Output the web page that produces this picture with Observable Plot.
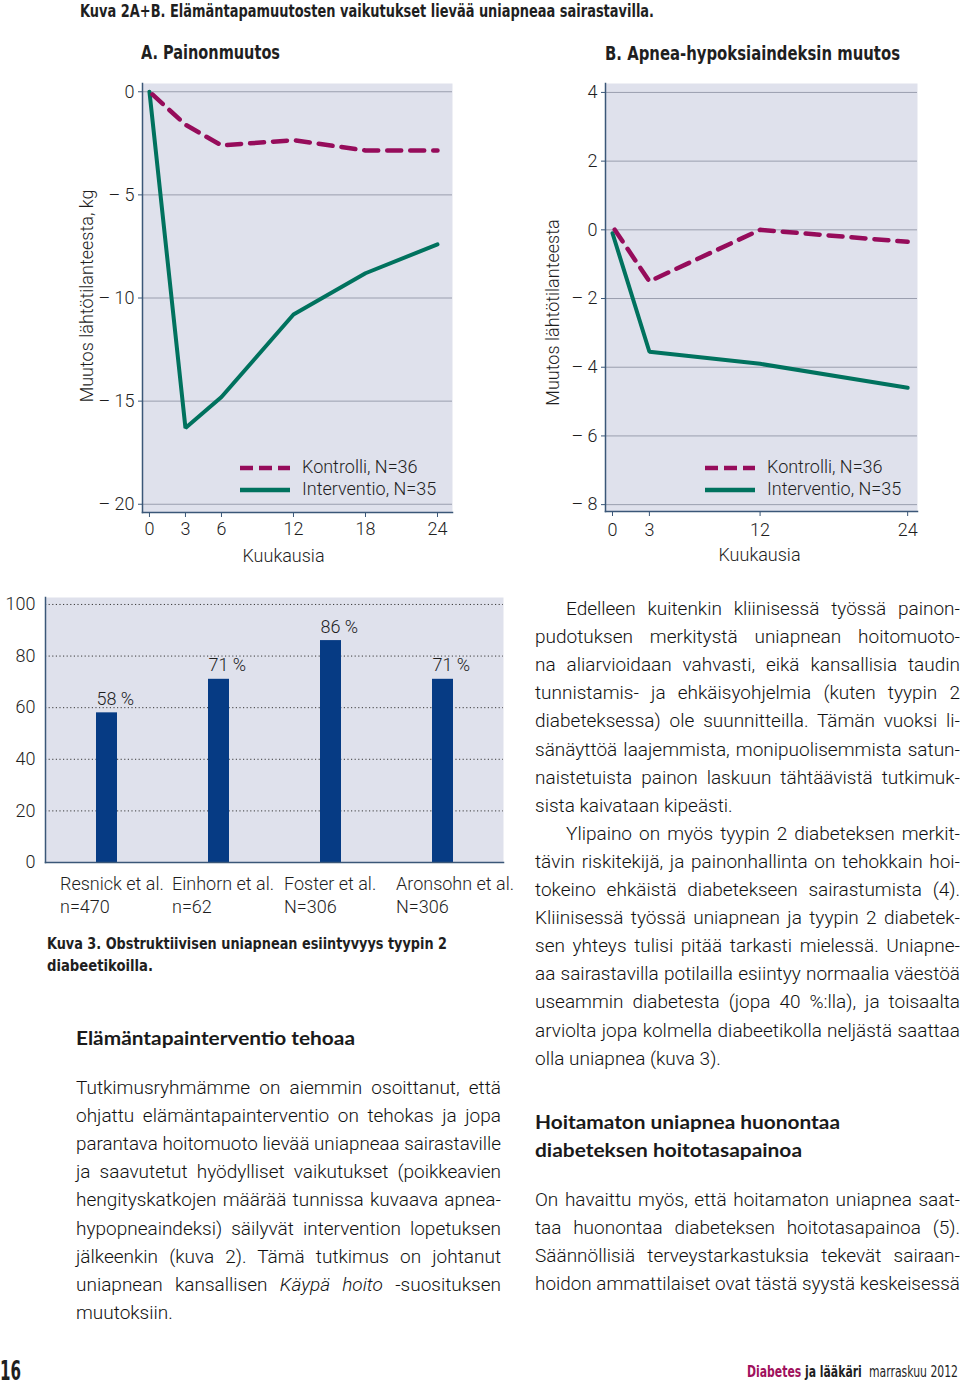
<!DOCTYPE html>
<html><head><meta charset="utf-8">
<script src="https://cdn.jsdelivr.net/npm/d3@7"></script>
<script src="https://cdn.jsdelivr.net/npm/@observablehq/plot@0.6"></script>
<style>
html,body{margin:0;padding:0;background:#fff;}
body{width:960px;height:1384px;position:relative;overflow:hidden;font-family:Roboto,"Liberation Sans",sans-serif;color:#222;}
.abs{position:absolute;white-space:nowrap;}
.cond{font-family:"Liberation Sans Narrow","DejaVu Sans Condensed",sans-serif;font-weight:700;font-stretch:condensed;color:#1f1f1f;}
.body{font-family:Roboto,"Liberation Sans",sans-serif;font-weight:300;font-size:19px;line-height:28px;color:#111;}
.head{font-family:Lato,"Open Sans",sans-serif;font-weight:700;font-size:19px;line-height:28px;color:#1a1a1a;}
.leg{font-family:Roboto,"Liberation Sans",sans-serif;font-weight:300;font-size:18px;color:#1e1e1e;line-height:21.5px;}
.leg svg{vertical-align:middle;margin-right:12px;}
</style></head>
<body>
<script>
// ---------- data ----------
const months = [0, 3, 6, 12, 18, 24];
const weightKontrolli = [0, -1.6, -2.6, -2.35, -2.85, -2.85];
const weightInterventio = [0, -16.3, -14.8, -10.8, -8.8, -7.4];
const ahiMonths = [0, 3, 12, 24];
const ahiKontrolli = [0.1, -1.5, 0, -0.35];
const ahiInterventio = [-0.1, -3.55, -3.9, -4.6];
const weightTicks = [0, -5, -10, -15, -20];
const ahiTicks = [4, 2, 0, -2, -4, -6, -8];
const monthTicksA = [0, 3, 6, 12, 18, 24];
const monthTicksB = [0, 3, 12, 24];
const studies = ["Resnick et al.", "Einhorn et al.", "Foster et al.", "Aronsohn et al."];
const studyN = ["n=470", "n=62", "N=306", "N=306"];
const prevalence = [58, 71, 86, 71];
const pctTicks = [0, 20, 40, 60, 80, 100];
const seriesNames = ["Kontrolli, N=36", "Interventio, N=35"];

// ---------- colours ----------
const BG = "#dfe1ec", GRID = "#9a9eae", AXIS = "#3b5778", PURPLE = "#960c5b", GREEN = "#00725e", BAR = "#063b84", INK = "#1e1e1e";
const FONT = "Roboto, 'Liberation Sans', sans-serif";

function place(el, x, y) {
  const w = document.createElement("div");
  w.className = "abs"; w.style.left = x + "px"; w.style.top = y + "px";
  w.appendChild(el); document.body.appendChild(w); return w;
}
function txt(html, x, y, cls) {
  const d = document.createElement("div");
  d.className = "abs " + cls; d.innerHTML = html;
  d.style.left = x + "px"; d.style.top = y + "px";
  document.body.appendChild(d); return d;
}
function fitTo(el, w) {
  const n = el.getBoundingClientRect().width;
  el.style.transformOrigin = "0 50%";
  el.style.transform = `scaleX(${w / n})`;
}
const dashFmt = d => d === 0 ? "0" : (d < 0 ? "\u2013 " + Math.abs(d) : String(d));

function lineChart(o) {
  const rows = o.months.flatMap((m, i) => [
    {m, v: o.kontrolli[i], s: seriesNames[0]},
    {m, v: o.interventio[i], s: seriesNames[1]}
  ]);
  return Plot.plot({
    width: o.width, height: o.height,
    marginLeft: o.ml, marginRight: o.mr, marginTop: o.mt, marginBottom: o.mb,
    x: {domain: o.xDomain}, y: {domain: o.yDomain},
    style: {fontFamily: FONT, fontSize: "18px", fontWeight: 300, color: INK, background: "transparent", overflow: "visible"},
    marks: [
      Plot.frame({fill: BG, stroke: null}),
      Plot.gridY(o.yTicks, {stroke: GRID, strokeOpacity: 1, strokeWidth: 1}),
      Plot.axisY(o.yTicks, {tickSize: 4, tickPadding: 4, tickFormat: dashFmt, stroke: AXIS, label: null}),
      Plot.axisX(o.xTicks, {tickSize: 5, tickPadding: o.xpad, stroke: AXIS, label: null}),
      Plot.frame({anchor: "left", stroke: AXIS, strokeWidth: 1.5}),
      Plot.frame({anchor: "bottom", stroke: AXIS, strokeWidth: 1.5}),
      Plot.line(rows.filter(d => d.s === seriesNames[1]), {x: "m", y: "v", stroke: GREEN, strokeWidth: 4, strokeLinejoin: "miter"}),
      Plot.line(rows.filter(d => d.s === seriesNames[0]), {x: "m", y: "v", stroke: PURPLE, strokeWidth: 4.5, strokeDasharray: "14,9", strokeDashoffset: -4}),
      Plot.text([o.ylabel], {text: d => d, frameAnchor: "left", textAnchor: "middle", lineAnchor: "middle", rotate: -90, dx: o.ylx, dy: o.yly}),
      Plot.text(["Kuukausia"], {text: d => d, frameAnchor: "bottom", textAnchor: "middle", lineAnchor: "middle", dx: o.xlx, dy: 44})
    ]
  });
}

function legend(x, y) {
  const d = document.createElement("div");
  d.className = "abs leg"; d.style.left = x + "px"; d.style.top = y + "px";
  d.innerHTML =
    `<div><svg width="50" height="6"><line x1="0" y1="3" x2="50" y2="3" stroke="${PURPLE}" stroke-width="4.5" stroke-dasharray="13,6"/></svg>${seriesNames[0]}</div>` +
    `<div><svg width="50" height="6"><line x1="0" y1="3" x2="50" y2="3" stroke="${GREEN}" stroke-width="4.5"/></svg>${seriesNames[1]}</div>`;
  document.body.appendChild(d); return d;
}

// ---------- headers ----------
const h0 = txt("Kuva 2A+B. Elämäntapamuutosten vaikutukset lievää uniapneaa sairastavilla.", 80, 1, "cond");
h0.style.fontSize = "17.5px"; fitTo(h0, 574);
const hA = txt("A. Painonmuutos", 141, 40, "cond"); hA.style.fontSize = "20px"; fitTo(hA, 139);
const hB = txt("B. Apnea-hypoksiaindeksin muutos", 605, 41, "cond"); hB.style.fontSize = "20px"; fitTo(hB, 295);

// ---------- chart A ----------
place(lineChart({
  months, kontrolli: weightKontrolli, interventio: weightInterventio,
  xTicks: monthTicksA, yTicks: weightTicks, xDomain: [-0.58, 25.25], yDomain: [-20.4, 0.4],
  width: 400, height: 500, ml: 82, mr: 8, mt: 13, mb: 58, xpad: 5,
  ylabel: "Muutos lähtötilanteesta, kg", ylx: -55, yly: -2, xlx: -14
}), 60, 70);
legend(240, 456);

// ---------- chart B ----------
place(lineChart({
  months: ahiMonths, kontrolli: ahiKontrolli, interventio: ahiInterventio,
  xTicks: monthTicksB, yTicks: ahiTicks, xDomain: [-0.57, 24.8], yDomain: [-8.2, 4.26],
  width: 420, height: 500, ml: 75, mr: 33, mt: 13, mb: 59, xpad: 7,
  ylabel: "Muutos lähtötilanteesta", ylx: -52, yly: 15, xlx: -2
}), 530, 70);
legend(705, 456);

// ---------- chart 3 ----------
const barRows = studies.map((s, i) => ({study: s, n: studyN[i], value: prevalence[i]}));
place(Plot.plot({
  width: 520, height: 340, marginLeft: 45, marginRight: 17, marginTop: 12, marginBottom: 63,
  x: {domain: studies, paddingInner: 0.814, paddingOuter: 0.434, axis: null},
  y: {domain: [0, 102.7], axis: null},
  style: {fontFamily: FONT, fontSize: "18px", fontWeight: 300, color: INK, background: "transparent", overflow: "visible"},
  marks: [
    Plot.frame({fill: BG, stroke: null}),
    Plot.gridY(pctTicks.filter(t => t > 0), {stroke: "#3a3a3a", strokeOpacity: 1, strokeDasharray: "1.2,2.4", strokeWidth: 1}),
    Plot.axisY(pctTicks, {tickSize: 0, tickPadding: 10, label: null}),
    Plot.barY(barRows, {x: "study", y: "value", fill: BAR}),
    Plot.frame({anchor: "left", stroke: AXIS, strokeWidth: 1.5}),
    Plot.frame({anchor: "bottom", stroke: AXIS, strokeWidth: 1.5}),
    Plot.text(barRows, {x: "study", y: "value", text: d => d.value + " %", textAnchor: "start", lineAnchor: "bottom", dx: -10.5, dy: -8}),
    Plot.text(barRows, {x: "study", frameAnchor: "bottom", text: d => d.study + "\n" + d.n, textAnchor: "start", lineAnchor: "top", lineHeight: 1.25, dx: -47, dy: 12})
  ]
}), 0, 585);

const c3a = txt("Kuva 3. Obstruktiivisen uniapnean esiintyvyys tyypin 2", 47, 934, "cond");
c3a.style.fontSize = "16.5px"; fitTo(c3a, 400);
const c3b = txt("diabeetikoilla.", 47, 956, "cond"); c3b.style.fontSize = "16.5px"; fitTo(c3b, 106);

// ---------- body text ----------
function column(lines, x, top, w, indent) {
  lines.forEach((L, i) => {
    const ind = (L.indent ? indent : 0);
    const d = txt(L.t, x + ind, top + i * 28.1, "body");
    const n = d.getBoundingClientRect().width;
    const target = w - ind;
    if (n > target) { d.style.transformOrigin = "0 50%"; d.style.transform = `scaleX(${target / n})`; }
    else if (!L.last) {
      const spaces = (d.textContent.match(/ /g) || []).length;
      if (spaces) d.style.wordSpacing = ((target - n) / spaces) + "px";
    }
  });
}
const leftLines = [
  {t: "Tutkimusryhmämme on aiemmin osoittanut, että"},
  {t: "ohjattu elämäntapainterventio on tehokas ja jopa"},
  {t: "parantava hoitomuoto lievää uniapneaa sairastaville"},
  {t: "ja saavutetut hyödylliset vaikutukset (poikkeavien"},
  {t: "hengityskatkojen määrää tunnissa kuvaava apnea-"},
  {t: "hypopneaindeksi) säilyvät intervention lopetuksen"},
  {t: "jälkeenkin (kuva 2). Tämä tutkimus on johtanut"},
  {t: "uniapnean kansallisen <i>Käypä hoito</i> -suosituksen"},
  {t: "muutoksiin.", last: true}
];
const hl = txt("Elämäntapainterventio tehoaa", 76, 1024, "head"); fitTo(hl, 279);
column(leftLines, 76, 1074, 425, 0);

const rightLines = [
  {t: "Edelleen kuitenkin kliinisessä työssä painon-", indent: true},
  {t: "pudotuksen merkitystä uniapnean hoitomuoto-"},
  {t: "na aliarvioidaan vahvasti, eikä kansallisia taudin"},
  {t: "tunnistamis- ja ehkäisyohjelmia (kuten tyypin 2"},
  {t: "diabeteksessa) ole suunnitteilla. Tämän vuoksi li-"},
  {t: "sänäyttöä laajemmista, monipuolisemmista satun-"},
  {t: "naistetuista painon laskuun tähtäävistä tutkimuk-"},
  {t: "sista kaivataan kipeästi.", last: true},
  {t: "Ylipaino on myös tyypin 2 diabeteksen merkit-", indent: true},
  {t: "tävin riskitekijä, ja painonhallinta on tehokkain hoi-"},
  {t: "tokeino ehkäistä diabetekseen sairastumista (4)."},
  {t: "Kliinisessä työssä uniapnean ja tyypin 2 diabetek-"},
  {t: "sen yhteys tulisi pitää tarkasti mielessä. Uniapne-"},
  {t: "aa sairastavilla potilailla esiintyy normaalia väestöä"},
  {t: "useammin diabetesta (jopa 40 %:lla), ja toisaalta"},
  {t: "arviolta jopa kolmella diabeetikolla neljästä saattaa"},
  {t: "olla uniapnea (kuva 3).", last: true}
];
column(rightLines, 535, 595, 425, 31);

const hr1 = txt("Hoitamaton uniapnea huonontaa", 535, 1108, "head"); fitTo(hr1, 305);
const hr2 = txt("diabeteksen hoitotasapainoa", 535, 1136, "head"); fitTo(hr2, 267);
const right2 = [
  {t: "On havaittu myös, että hoitamaton uniapnea saat-"},
  {t: "taa huonontaa diabeteksen hoitotasapainoa (5)."},
  {t: "Säännöllisiä terveystarkastuksia tekevät sairaan-"},
  {t: "hoidon ammattilaiset ovat tästä syystä keskeisessä"}
];
column(right2, 535, 1186, 425, 0);

// ---------- footer ----------
const pg = txt("16", 0, 1356, "cond"); pg.style.fontSize = "26px"; fitTo(pg, 21);
const ft = txt(`<span style="color:#a0115d">Diabetes</span> <span>ja lääkäri</span> <span style="font-weight:400">&nbsp;marraskuu 2012</span>`, 747, 1363, "cond");
ft.style.fontSize = "15.5px"; fitTo(ft, 211);
</script>
</body></html>
